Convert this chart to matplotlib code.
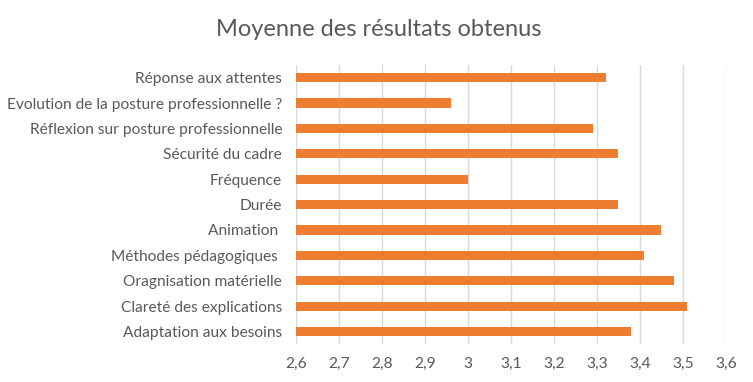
import matplotlib.pyplot as plt
import numpy as np

plt.rcParams['font.family'] = ['Lato', 'DejaVu Sans']

# categories from top to bottom
categories = ["Réponse aux attentes",
              "Evolution de la posture professionnelle ?",
              "Réflexion sur posture professionnelle",
              "Sécurité du cadre",
              "Fréquence",
              "Durée",
              "Animation ",
              "Méthodes pédagogiques ",
              "Oragnisation matérielle",
              "Clareté des explications",
              "Adaptation aux besoins"]
values = [3.32, 2.96, 3.29, 3.35, 3.00, 3.35, 3.45, 3.41, 3.48, 3.51, 3.38]
xticks = [2.6, 2.7, 2.8, 2.9, 3.0, 3.1, 3.2, 3.3, 3.4, 3.5, 3.6]
xlabels = ["2,6", "2,7", "2,8", "2,9", "3", "3,1", "3,2", "3,3", "3,4", "3,5", "3,6"]

gris = "#595959"

fig = plt.figure(figsize=(7.53, 3.82), dpi=100)
ax = fig.add_axes([0.393, 0.099, 0.571, 0.731])

y = np.arange(len(categories))
base = 2.6
ax.barh(y, np.array(values) - base, left=base, height=0.36, color="#ED7D31", zorder=3)

ax.set_xlim(2.6, 3.6)
ax.set_ylim(len(categories) - 0.5, -0.5)
ax.set_xticks(xticks)
ax.set_xticklabels(xlabels)
ax.set_yticks(y)
ax.set_yticklabels(categories)
ax.tick_params(axis='both', length=0, labelsize=11.2, colors=gris)
ax.tick_params(axis='x', pad=9)
ax.tick_params(axis='y', pad=10)
ax.xaxis.grid(True, color="#D9D9D9", linewidth=1, zorder=0)
for s in ax.spines.values():
    s.set_visible(False)

fig.text(0.503, 0.922, "Moyenne des résultats obtenus", ha='center', va='center',
         fontsize=17, color=gris)

fig.savefig("out.png", dpi=100)
